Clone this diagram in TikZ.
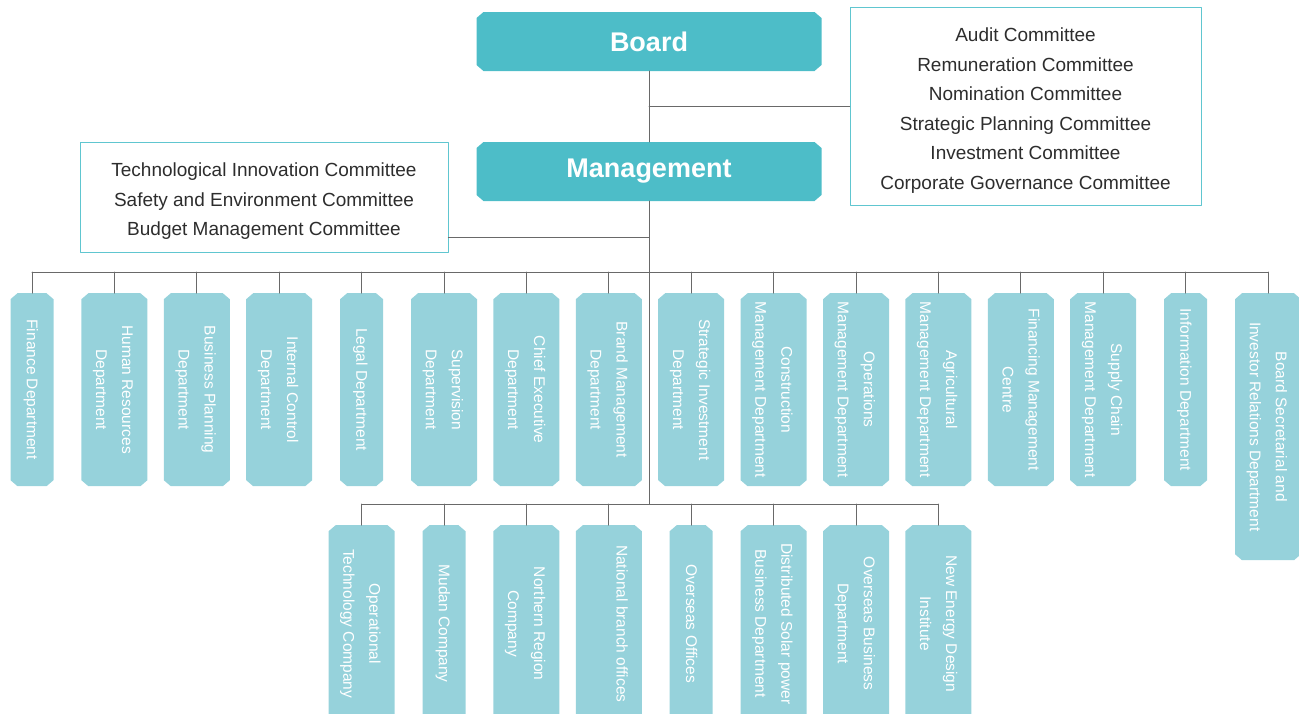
\documentclass[tikz,border=0pt]{standalone}
\usepackage{fontspec}
\setmainfont{Liberation Sans}
\definecolor{headfill}{RGB}{77,189,200}
\definecolor{deptfill}{RGB}{150,210,219}
\definecolor{comborder}{RGB}{96,198,208}
\definecolor{linegray}{RGB}{105,105,105}
\definecolor{comtext}{RGB}{45,45,45}
\newcommand{\cutbox}[1]{\fill[#1] ([xshift=7pt]path picture bounding box.north west) -- ([xshift=-7pt]path picture bounding box.north east) -- ([yshift=-6pt]path picture bounding box.north east) -- ([yshift=6pt]path picture bounding box.south east) -- ([xshift=-7pt]path picture bounding box.south east) -- ([xshift=7pt]path picture bounding box.south west) -- ([yshift=6pt]path picture bounding box.south west) -- ([yshift=-6pt]path picture bounding box.north west) -- cycle;}
\newcommand{\comlines}[1]{\raisebox{-3.5pt}[\height][\depth]{\begin{tabular}{@{}c@{}}#1\end{tabular}}}
\begin{document}
\begin{tikzpicture}
	[x=1pt,y=-1pt,line cap=round,line join=round,
	head/.style={rectangle,path picture={\cutbox{headfill}},text=white,minimum width=345pt,minimum height=59pt,inner sep=0pt,font=\fontsize{27}{32}\selectfont\bfseries},
	dept/.style={rectangle,path picture={\cutbox{deptfill}},text=white,inner sep=0pt,anchor=north,font=\fontsize{15.5}{26}\selectfont},
	comm/.style={draw=comborder,line width=0.9pt,text=comtext,inner sep=0pt,font=\fontsize{19}{29.5}\selectfont},
	conn/.style={draw=linegray,line width=1pt}]
	\useasboundingbox (0,0) rectangle (1299,713);
	\clip (0,0) rectangle (1299,713);
	\node[head] (board) at (649,41.5) {Board};
	\node[head] (mgmt) at (649,171.5) {Management};
	\node[comm,minimum width=351pt,minimum height=198pt] (bcom) at (1025.5,106) {\comlines{Audit Committee\\Remuneration Committee\\Nomination Committee\\Strategic Planning Committee\\Investment Committee\\Corporate Governance Committee}};
	\node[comm,minimum width=368pt,minimum height=110pt] (mcom) at (264,197) {\comlines{Technological Innovation Committee\\Safety and Environment Committee\\Budget Management Committee}};
	\coordinate (bjoin) at (649,106);
	\coordinate (mjoin) at (649,237);
	\coordinate (topbus) at (649,272);
	\coordinate (lowbus) at (649,504);
	\draw[conn] (board.south) -- (mgmt.north);
	\draw[conn] (mgmt.south) -- (lowbus);
	\draw[conn] (bjoin) -- (bjoin -| bcom.west);
	\draw[conn] (mjoin) -- (mjoin -| mcom.east);
	\foreach \i/\w/\h/\t in {0/43/193/{Finance Department},1/66/193/{Human Resources\\Department},2/66/193/{Business Planning\\Department},3/66/193/{Internal Control\\Department},4/43/193/{Legal Department},5/66/193/{Supervision\\Department},6/66/193/{Chief Executive\\Department},7/66/193/{Brand Management\\Department},8/66/193/{Strategic Investment\\Department},9/66/193/{Construction\\Management Department},10/66/193/{Operations\\Management Department},11/66/193/{Agricultural\\Management Department},12/66/193/{Financing Management\\Centre},13/66/193/{Supply Chain\\Management Department},14/43/193/{Information Department},15/66/267/{Board Secretarial and\\Investor Relations Department}}{
		\node[dept,minimum width=\w pt,minimum height=\h pt] (d\i) at (32+82.4*\i,293) {\rotatebox{-90}{\begin{tabular}{@{}c@{}}\t\end{tabular}}};
		\draw[conn] (d\i.north) -- (d\i.north |- topbus);
	}
	\draw[conn] (d0.north |- topbus) -- (d15.north |- topbus);
	\foreach \i/\w/\t in {4/66/{Operational\\Technology Company},5/43/{Mudan Company},6/66/{Northern Region\\Company},7/66/{National branch offices\\\mbox{}},8/43/{Overseas Offices},9/66/{Distributed Solar power\\Business Department},10/66/{Overseas Business\\Department},11/66/{New Energy Design\\Institute}}{
		\node[dept,minimum width=\w pt,minimum height=197pt] (s\i) at (32+82.4*\i,525) {\rotatebox{-90}{\begin{tabular}{@{}c@{}}\t\end{tabular}}};
		\draw[conn] (s\i.north) -- (s\i.north |- lowbus);
	}
	\draw[conn] (s4.north |- lowbus) -- (s11.north |- lowbus);
\end{tikzpicture}
\end{document}
